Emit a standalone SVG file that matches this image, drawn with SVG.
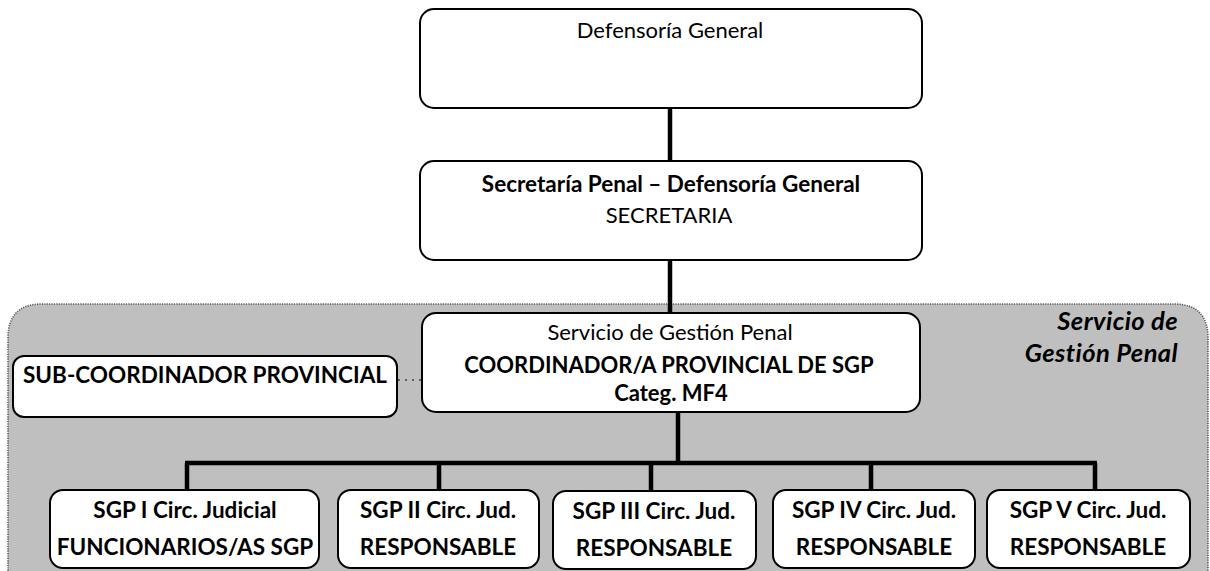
<svg xmlns="http://www.w3.org/2000/svg" width="1210" height="571" viewBox="0 0 1210 571">
  <style>
    .box { fill: #ffffff; stroke: #000000; stroke-width: 2; }
    .t { font-family: Lato, "Liberation Sans", sans-serif; font-size: 22px; fill: #000000; text-anchor: middle; }
    .b { font-weight: bold; font-size: 22.5px; }
    .it { font-family: Lato, "Liberation Sans", sans-serif; font-size: 25.5px; letter-spacing: 0.4px; font-style: italic; font-weight: bold; fill: #000000; text-anchor: end; }
    .link { stroke: #000000; stroke-width: 4.5; fill: none; }
    .dot { stroke: #000000; stroke-width: 1.2; stroke-dasharray: 2 5; fill: none; }
  </style>

  <!-- Servicio de Gestión Penal area -->
  <g id="area-sgp">
    <path d="M8,571 L8,338 Q8,304 42,304 L1174,304 Q1208,304 1208,338 L1208,571" fill="#bfbfbf" stroke="#555555" stroke-width="1.6" stroke-dasharray="1.2 1.2"/>
    <text class="it" x="1178" y="330">Servicio de</text>
    <text class="it" x="1178" y="362">Gestión Penal</text>
  </g>

  <!-- connectors -->
  <g id="connectors">
    <line class="link" x1="670" y1="108" x2="670" y2="161"/>
    <line class="link" x1="670" y1="260" x2="670" y2="313"/>
    <line class="link" x1="678" y1="412" x2="678" y2="463"/>
    <line class="link" x1="185" y1="463" x2="1097" y2="463"/>
    <line class="link" x1="187" y1="463" x2="187" y2="490"/>
    <line class="link" x1="439" y1="463" x2="439" y2="490"/>
    <line class="link" x1="651" y1="463" x2="651" y2="490"/>
    <line class="link" x1="871" y1="463" x2="871" y2="490"/>
    <line class="link" x1="1095" y1="463" x2="1095" y2="490"/>
    <line class="dot" x1="398" y1="380" x2="421" y2="380"/>
  </g>

  <g id="defensoria-general">
    <rect class="box" x="420" y="9" width="502" height="99" rx="14"/>
    <text class="t" x="670" y="38">Defensoría General</text>
  </g>

  <g id="secretaria-penal">
    <rect class="box" x="420" y="161" width="502" height="99" rx="14"/>
    <text class="t b" x="671" y="192">Secretaría Penal – Defensoría General</text>
    <text class="t" x="669" y="223">SECRETARIA</text>
  </g>

  <g id="coordinador">
    <rect class="box" x="422" y="313" width="498" height="99" rx="14"/>
    <text class="t" x="670" y="340">Servicio de Gestión Penal</text>
    <text class="t b" x="669" y="373" style="font-size:22px">COORDINADOR/A PROVINCIAL DE SGP</text>
    <text class="t b" x="671" y="401" style="font-size:22px">Categ. MF4</text>
  </g>

  <g id="sub-coordinador">
    <rect class="box" x="13" y="356" width="384" height="61" rx="11"/>
    <text class="t b" x="205" y="383">SUB-COORDINADOR PROVINCIAL</text>
  </g>

  <g id="sgp-1">
    <rect class="box" x="50" y="490" width="269" height="78" rx="13"/>
    <text class="t b" x="185" y="518">SGP I Circ. Judicial</text>
    <text class="t b" x="185" y="555">FUNCIONARIOS/AS SGP</text>
  </g>

  <g id="sgp-2">
    <rect class="box" x="338" y="490" width="201" height="78" rx="13"/>
    <text class="t b" x="438" y="518">SGP II Circ. Jud.</text>
    <text class="t b" x="438" y="555">RESPONSABLE</text>
  </g>

  <g id="sgp-3">
    <rect class="box" x="553" y="491" width="203" height="78" rx="13"/>
    <text class="t b" x="654" y="519">SGP III Circ. Jud.</text>
    <text class="t b" x="654" y="556">RESPONSABLE</text>
  </g>

  <g id="sgp-4">
    <rect class="box" x="773" y="490" width="202" height="78" rx="13"/>
    <text class="t b" x="874" y="518">SGP IV Circ. Jud.</text>
    <text class="t b" x="874" y="555">RESPONSABLE</text>
  </g>

  <g id="sgp-5">
    <rect class="box" x="987" y="490" width="203" height="78" rx="13"/>
    <text class="t b" x="1088" y="518">SGP V Circ. Jud.</text>
    <text class="t b" x="1088" y="555">RESPONSABLE</text>
  </g>
</svg>
